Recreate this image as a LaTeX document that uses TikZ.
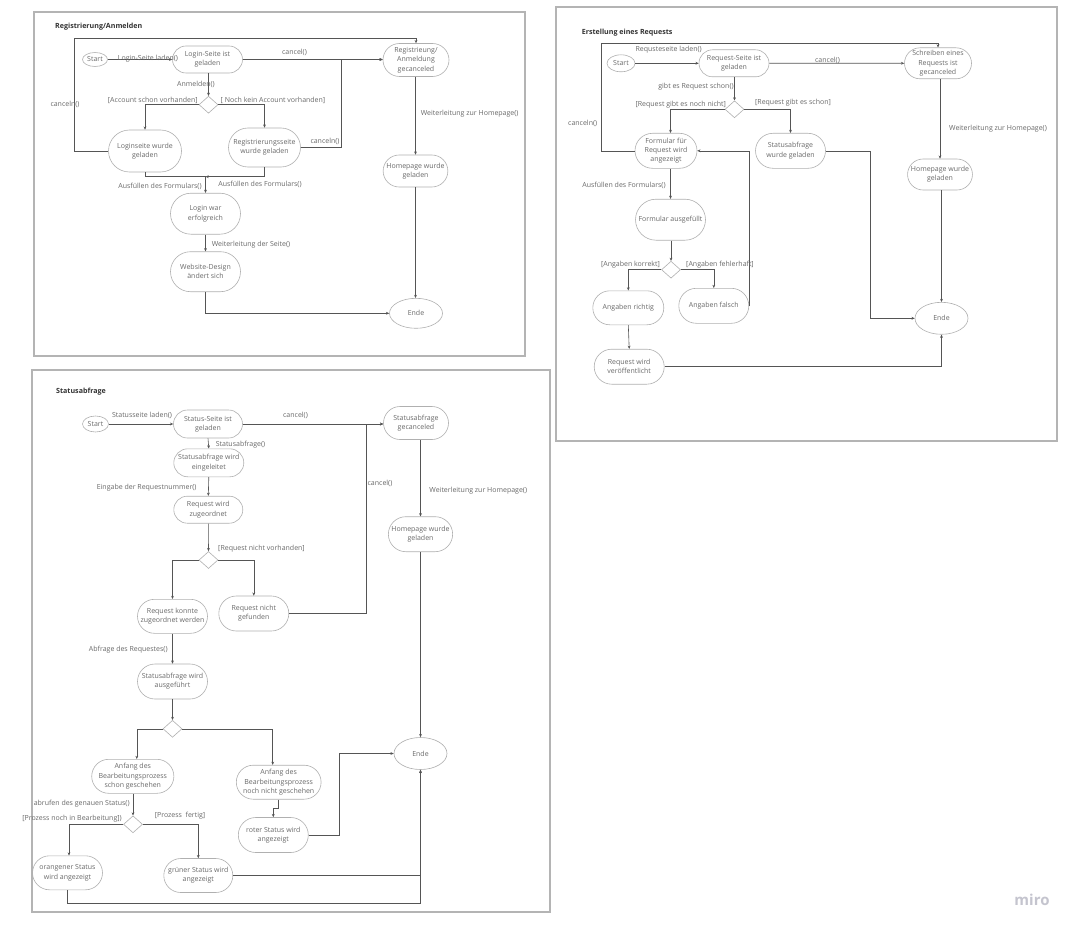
\documentclass[tikz,border=0pt]{standalone}
\usepackage{fontspec}
\setmainfont{Open Sans}
\usetikzlibrary{shapes.misc,shapes.geometric,arrows.meta,calc}
\definecolor{txtgray}{HTML}{6A6A6A}
\definecolor{titlegray}{HTML}{333333}
\definecolor{nodegray}{HTML}{B0B0B0}
\definecolor{linegray}{HTML}{555555}
\definecolor{panelgray}{HTML}{B4B4B4}
\definecolor{mirogray}{HTML}{C4C4CE}
\newcommand\stn[6]{\node[st,minimum width=#4pt,minimum height=#5pt] (#1) at (#2,#3) {#6};}
\newcommand\dian[3]{\node[dia] (#1) at (#2,#3) {};}
\begin{document}
\begin{tikzpicture}[x=1pt,y=-1pt,
  st/.style={rounded rectangle,draw=nodegray,line width=0.6pt,align=center,inner sep=1pt,
    font=\fontsize{7}{9.3}\selectfont,text=txtgray},
  el/.style={ellipse,draw=nodegray,line width=0.6pt,inner sep=0pt,
    font=\fontsize{7}{9.3}\selectfont,text=txtgray},
  dia/.style={diamond,draw=nodegray,line width=0.6pt,inner sep=0pt,minimum width=19pt,minimum height=17pt},
  lab/.style={font=\fontsize{7}{8}\selectfont,text=txtgray,inner sep=0pt},
  ttl/.style={font=\fontsize{7.1}{8}\selectfont\bfseries,text=titlegray,inner sep=0pt,anchor=west},
  arr/.style={draw=linegray,line width=0.6pt,-{Stealth[length=3.2pt,width=2.8pt]}},
  panel/.style={draw=panelgray,line width=1.2pt}]
\useasboundingbox (0,0) rectangle (1073,931);
\fill[white] (0,0) rectangle (1073,931);

% ================= Panel 1 =================
\draw[panel] (34,12) rectangle (525,356);
\node[ttl] (t1) at (55,27) {Registrierung/Anmelden};
\node[el,minimum width=25pt,minimum height=14pt] (start1) at (95,59.5) {Start};
\stn{lsg}{207.5}{59.5}{72}{27}{Login-Seite ist\\geladen}
\stn{rac}{416}{60}{68}{33}{Registrieung/\\Anmeldung\\gecanceled}
\dian{d1}{208.5}{104.7}
\stn{lwg}{145}{151}{75}{42}{Loginseite wurde\\geladen}
\stn{rwg}{264.5}{147.5}{74}{39}{Registrierungsseite\\wurde geladen}
\stn{hwg1}{415.5}{171}{61}{32}{Homepage wurde\\geladen}
\stn{lwe}{205.5}{213.7}{72}{41}{Login war\\erfolgreich}
\stn{wda}{205.5}{271.7}{72}{40}{Website-Design\\ändert sich}
\node[el,minimum width=53pt,minimum height=30pt] (ende1) at (416,313.3) {Ende};

\draw[arr] (start1) -- (lsg);
\node[lab] (l1a) at (148,59) {Login-Seite laden()};
\draw[arr] (lsg.south -| d1.north) -- (d1.north);
\node[lab] (l1b) at (196,84) {Anmelden()};
\draw[arr] (d1.west) -| (lwg.north);
\node[lab] (l1c) at (152.8,100.5) {[Account schon vorhanden]};
\draw[arr] (d1.east) -| (rwg.north);
\node[lab] (l1d) at (273,100.5) {[ Noch kein Account vorhanden]};
\draw[arr] (lsg.east) -- (lsg.east -| rac.west);
\node[lab] (l1e) at (294.5,52) {cancel()};
\draw[arr] (lwg.west) -| (74,38) -| (rac.north);
\node[lab] (l1f) at (65,104) {canceln()};
\draw[arr] (rwg.east) -| (341,59.5) -- (lsg.east -| rac.west);
\node[lab] (l1g) at (325,141.7) {canceln()};
\coordinate (m1) at (205.5,176.7);
\draw[arr] (lwg.south) |- (m1) -- (lwe.north);
\draw[arr] (rwg.south) |- (m1);
\node[lab] (l1h) at (160,186) {Ausfüllen des Formulars()};
\node[lab] (l1i) at (260,184.5) {Ausfüllen des Formulars()};
\draw[arr] (lwe.south) -- (wda.north);
\node[lab] (l1j) at (251,245) {Weiterleitung der Seite()};
\draw[arr] (wda.south) |- (ende1.west);
\draw[arr] (rac.south -| hwg1.north) -- (hwg1.north);
\node[lab] (l1k) at (469.7,113.3) {Weiterleitung zur Homepage()};
\draw[arr] (hwg1.south) -- (hwg1.south |- ende1.north);

% ================= Panel 2 =================
\draw[panel] (556,7) rectangle (1057,441);
\node[ttl] (t2) at (581.7,32.3) {Erstellung eines Requests};
\node[el,minimum width=28pt,minimum height=17pt] (start2) at (621,63.3) {Start};
\stn{rsg}{734}{63.3}{72}{27}{Request-Seite ist\\geladen}
\stn{sgc}{938}{63.3}{60}{31}{Schreiben eines\\Requests ist\\gecanceled}
\dian{d2}{734.5}{109.3}
\stn{fra}{666}{150.8}{64}{35}{Formular für\\Request wird\\angezeigt}
\stn{swg}{790.5}{150.8}{72}{35}{Statusabfrage\\wurde geladen}
\stn{hwg2}{940}{174.5}{62}{31}{Homepage wurde\\geladen}
\stn{fau}{670.5}{219.7}{72}{41}{Formular ausgefüllt}
\dian{d3}{671}{269.7}
\stn{ari}{628.3}{307.8}{73}{34}{Angaben richtig}
\stn{afa}{713.8}{305.8}{72}{35}{Angaben falsch}
\stn{rwv}{629.2}{366.7}{72}{35}{Request wird\\veröffentlicht}
\node[el,minimum width=53pt,minimum height=32pt] (ende2) at (941.5,318.3) {Ende};

\draw[arr] (start2) -- (rsg);
\node[lab] (l2a) at (668.7,50) {Requsteseite laden()};
\draw[arr] (rsg) -- (sgc);
\node[lab] (l2b) at (827.5,60) {cancel()};
\draw[arr] (rsg.south -| d2.north) -- (d2.north);
\node[lab] (l2c) at (696,86.7) {gibt es Request schon()};
\draw[arr] (d2.west) -| (fau.north |- fra.north);
\node[lab] (l2d) at (680.8,105) {[Request gibt es noch nicht]};
\draw[arr] (d2.east) -| (swg.north);
\node[lab] (l2e) at (793,102.7) {[Request gibt es schon]};
\draw[arr] (fra.west) -| (601.7,43.3) -| (sgc.north);
\node[lab] (l2f) at (582.7,123.3) {canceln()};
\draw[arr] (afa.east) -- (afa.east |- fra.east) -- (fra.east);
\draw[arr] (swg.east) -| (870.7,318.3) -- (ende2.west);
\draw[arr] (sgc.south -| hwg2.north) -- (hwg2.north);
\node[lab] (l2g) at (998,128.3) {Weiterleitung zur Homepage()};
\draw[arr] (hwg2.south -| ende2.north) -- (ende2.north);
\draw[arr] (fau.north |- fra.south) -- (fau.north);
\node[lab] (l2h) at (624,185) {Ausfüllen des Formulars()};
\draw[arr] (fau.south -| d3.north) -- (d3.north);
\draw[arr] (d3.west) -| (ari.north);
\node[lab] (l2i) at (630.5,264.3) {[Angaben korrekt]};
\draw[arr] (d3.east) -| (afa.north);
\node[lab] (l2j) at (720,264.3) {[Angaben fehlerhaft]};
\draw[arr] (ari.south) -- (rwv.north);
\draw[arr] (rwv.east) -| (ende2.south);

% ================= Panel 3 =================
\draw[panel] (32,370) rectangle (550,912);
\node[ttl] (t3) at (56,391.7) {Statusabfrage};
\node[el,minimum width=26pt,minimum height=16pt] (start3) at (95.5,424) {Start};
\stn{ssg}{208}{424}{71}{28}{Status-Seite ist\\geladen}
\stn{sgc3}{416}{423}{67}{33}{Statusabfrage\\gecanceled}
\stn{swe}{208.8}{462.8}{72}{28}{Statusabfrage wird\\eingeleitet}
\stn{rwz}{208.3}{509.7}{71}{27}{Request wird\\zugeordnet}
\dian{d4}{208.5}{560}
\stn{rkz}{172.5}{616.3}{72}{34}{Request konnte\\zugeordnet werden}
\stn{rng}{253.8}{613.5}{72}{35}{Request nicht\\gefunden}
\stn{swa}{172.5}{681.5}{72}{35}{Statusabfrage wird\\ausgeführt}
\dian{d5}{172.5}{728.8}
\stn{abs}{132.8}{776.3}{82}{34}{Anfang des\\Bearbeitungsprozess\\schon geschehen}
\stn{abn}{278.7}{782.2}{83}{34}{Anfang des\\Bearbeitungsprozess\\noch nicht geschehen}
\stn{rsa}{273.3}{835}{72}{35}{roter Status wird\\angezeigt}
\dian{d6}{133}{824.3}
\stn{osa}{67.5}{872.8}{72}{34}{orangener Status\\wird angezeigt}
\stn{gsa}{198.3}{875.5}{71}{34}{grüner Status wird\\angezeigt}
\stn{hwg3}{420.5}{534.2}{63}{35}{Homepage wurde\\geladen}
\node[el,minimum width=53pt,minimum height=32pt] (ende3) at (420.5,753.5) {Ende};

\draw[arr] (start3) -- (ssg);
\node[lab] (l3a) at (142,415.7) {Statusseite laden()};
\draw[arr] (ssg.east) -- (ssg.east -| sgc3.west);
\node[lab] (l3b) at (295.5,415) {cancel()};
\draw[arr] (rng.east) -| (366,424) -- (ssg.east -| sgc3.west);
\node[lab] (l3c) at (380,483.3) {cancel()};
\draw[arr] (ssg.south) -- (swe.north);
\node[lab] (l3d) at (240.5,445) {Statusabfrage()};
\draw[arr] (swe.south) -- (rwz.north);
\node[lab] (l3e) at (146.7,487.7) {Eingabe der Requestnummer()};
\draw[arr] (rwz.south) -- (d4.north);
\node[lab] (l3f) at (261.5,548.3) {[Request nicht vorhanden]};
\draw[arr] (d4.west) -| (rkz.north);
\draw[arr] (d4.east) -| (rng.north);
\draw[arr] (rkz.south) -- (swa.north);
\node[lab] (l3g) at (128.3,649.3) {Abfrage des Requestes()};
\draw[arr] (swa.south) -- (d5.north);
\draw[arr] (d5.west) -| ([xshift=4pt]abs.north);
\draw[arr] (d5.east) -| ([xshift=-6pt]abn.north);
\draw[arr] (abn.south) -- ++(0,9) -| (rsa.north);
\draw[arr] (rsa.east) -| (339.3,753.5) -- (ende3.west);
\draw[arr] (sgc3.south -| hwg3.north) -- (hwg3.north);
\node[lab] (l3h) at (478.3,490.7) {Weiterleitung zur Homepage()};
\draw[arr] (hwg3.south) -- (ende3.north);
\draw[arr] (abs.south -| d6.north) -- (d6.north);
\node[lab] (l3i) at (81.7,804) {abrufen des genauen Status()};
\draw[arr] (d6.west) -| ([xshift=1.5pt]osa.north);
\node[lab] (l3j) at (72,818.3) {[Prozess noch in Bearbeitung])};
\draw[arr] (d6.east) -| (gsa.north);
\node[lab] (l3k) at (180,816) {[Prozess~~fertig]};
\draw[arr] (gsa.east) -| (ende3.south);
\coordinate (b3) at (420.5,903.3);
\draw[arr] (osa.south) |- (b3) -- (ende3.south);

% miro logo
\node[font=\fontsize{15}{15}\selectfont\bfseries,text=mirogray,inner sep=0pt] (miro) at (1032,900) {miro};
\end{tikzpicture}
\end{document}
